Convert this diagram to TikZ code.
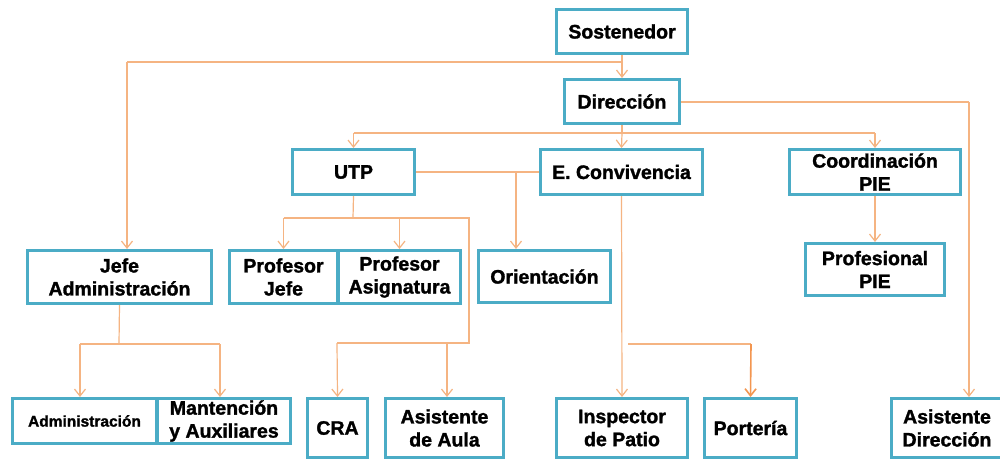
\documentclass[tikz,border=0pt]{standalone}
\usepackage{fontspec}
\setmainfont{Liberation Sans}[BoldFeatures={FakeBold=1.5}]
\usetikzlibrary{arrows.meta}
\definecolor{boxc}{RGB}{75,172,198}
\definecolor{linec}{RGB}{245,180,130}
\definecolor{linedk}{RGB}{243,150,80}
\newcommand\bfnt{\bfseries\fontsize{19.5}{23}\selectfont}
\newcommand\sfnt{\bfseries\fontsize{15.5}{19}\selectfont}
\newcommand\bx[7][]{\node[box,#1, minimum width={#5-#3-2.8}, minimum height={#6-#4-2.8}] (#2) at ({(#3+#5)/2},{(#4+#6)/2}) {#7};}
\tikzset{
  box/.style={draw=boxc, line width=2.8pt, fill=white, inner sep=0pt, align=center, font=\bfnt},
  conn/.style={draw=linec, line width=1.2pt},
  arr/.style={conn, -{Straight Barb[length=7pt,width=11pt,line width=1.2pt]}},
  arrdk/.style={draw=linedk, line width=1.6pt, -{Straight Barb[length=7pt,width=11pt,line width=1.6pt]}}
}
\begin{document}
\begin{tikzpicture}[x=1pt,y=-1pt]
\useasboundingbox (0,0) rectangle (1000,460);
\clip (0,0) rectangle (1000,460);
\fill[white] (0,0) rectangle (1000,460);
% boxes
\bx{sost}{555}{8}{689}{55}{Sostenedor}
\bx{dir}{563}{78}{681}{125}{Dirección}
\bx{utp}{291}{148}{416}{196}{UTP}
\bx{conv}{539}{148}{704}{196}{E. Convivencia}
\bx{coord}{788}{148}{962}{196}{Coordinación\\PIE}
\bx{jefeadm}{26}{249}{213}{305}{Jefe\\Administración}
\bx{pj}{228}{249}{339}{305}{Profesor\\Jefe}
\bx{pa}{337}{249}{462}{305}{Profesor\\Asignatura}
\bx{ori}{477}{249}{612}{304}{Orientación}
\bx{ppie}{804}{242}{946}{297}{Profesional\\PIE}
\bx[font=\sfnt]{adm}{11}{397}{158}{445}{Administración}
\bx{mant}{156}{397}{292}{445}{Mantención\\y Auxiliares}
\bx{cra}{306}{397}{369}{459}{CRA}
\bx{asa}{384}{397}{505}{459}{Asistente\\de Aula}
\bx{insp}{555}{397}{689}{459}{Inspector\\de Patio}
\bx{port}{703}{397}{798}{459}{Portería}
\bx{asd}{890}{397}{1004}{459}{Asistente\\Dirección}
% junction coordinates
\coordinate (jS) at (623,62);
\coordinate (jSL) at (127,62);
\coordinate (jD) at (622,133);
\coordinate (jDR) at (969,102);
\coordinate (jO) at (516,172);
\coordinate (jU) at (353,218);
\coordinate (jUR) at (469,218);
\coordinate (jC) at (469,343);
\coordinate (jCL) at (337,343);
\coordinate (jA) at (447,343);
\coordinate (jJ) at (119,344);
\coordinate (jE) at (628,344);
\coordinate (jP) at (751,344);
% connectors
\draw[arr] (sost.south) -- (dir.north);
\draw[conn] (jS) -- (jSL);
\draw[arr] (jSL) -- (jSL |- jefeadm.north);
\draw[conn] (dir.south) -- (jD);
\draw[conn] (utp.north |- jD) -- (coord.north |- jD);
\draw[arr] (utp.north |- jD) -- (utp.north);
\draw[arr] (jD) -- (conv.north);
\draw[arr] (coord.north |- jD) -- (coord.north);
\draw[conn] (dir.east |- jDR) -- (jDR);
\draw[arr] (jDR) -- (jDR |- asd.north);
\draw[conn] (utp.east) -- (conv.west);
\draw[arr] (jO) -- (jO |- ori.north);
\draw[conn] (utp.south) -- (jU);
\draw[conn] (pj.north |- jU) -- (jUR) -- (jC) -- (jCL);
\draw[arr] (pj.north |- jU) -- (pj.north);
\draw[arr] (pa.north |- jU) -- (pa.north);
\draw[arr] (jCL) -- (cra.north);
\draw[arr] (jA) -- (jA |- asa.north);
\draw[conn] (jefeadm.south) -- (jJ);
\draw[conn] (80,344) -- (220,344);
\draw[arr] (80,344) -- (80,397);
\draw[arr] (220,344) -- (220,397);
\draw[arr] (conv.south) -- (insp.north);
\draw[conn] (jE) -- (jP);
\draw[arrdk] (jP) -- (port.north);
\draw[arr] (coord.south) -- (ppie.north);
\end{tikzpicture}
\end{document}
